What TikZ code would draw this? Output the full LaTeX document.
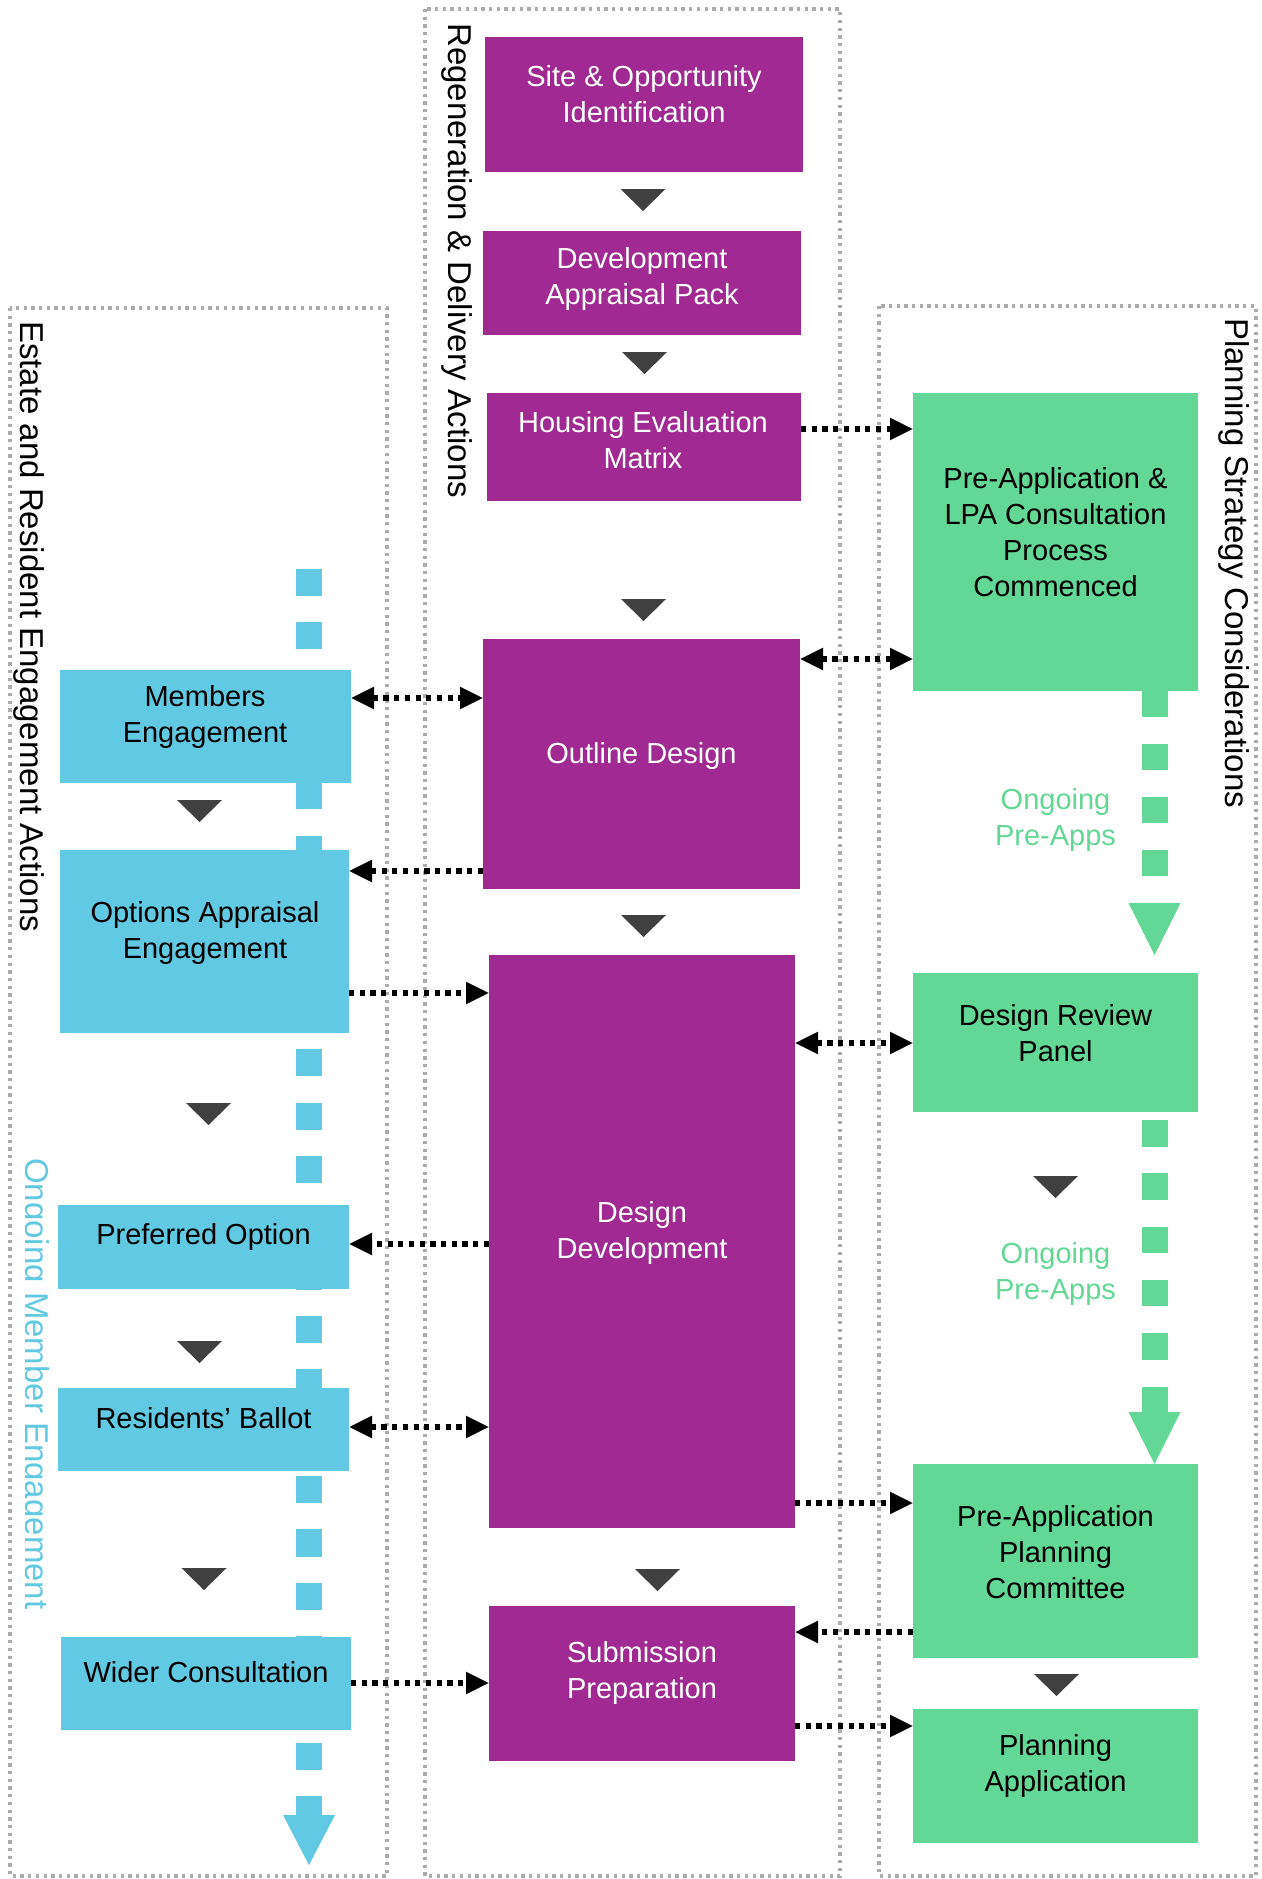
\documentclass[tikz,border=0pt]{standalone}
\usepackage{fontspec}
\setmainfont{Liberation Sans}
\usetikzlibrary{arrows.meta}
\definecolor{cpurple}{RGB}{160,42,145}
\definecolor{cblue}{RGB}{98,201,227}
\definecolor{cgreen}{RGB}{99,215,149}
\definecolor{ctri}{RGB}{64,64,64}
\definecolor{cframe}{RGB}{172,172,172}
\newcommand\downtri[2]{\fill[ctri] ({#1-22.5},#2) -- ({#1+22.5},#2) -- (#1,{#2+22}) -- cycle;}
\begin{document}
\begin{tikzpicture}[x=1pt,y=-1pt,
  >={Triangle[length=23pt,width=21pt]},
  frame/.style={draw=cframe, line width=3.5pt, dash pattern=on 3.3pt off 4.4pt},
  box/.style={rectangle, inner sep=0pt, outer sep=0pt},
  pbox/.style={box, fill=cpurple},
  bbox/.style={box, fill=cblue},
  gbox/.style={box, fill=cgreen},
  txt/.style={align=center, font=\fontsize{29}{36}\selectfont, inner sep=0pt},
  wtxt/.style={txt, text=white},
  ktxt/.style={txt, text=black},
  title/.style={rotate=-90, anchor=base west, font=\fontsize{33}{40}\selectfont, inner sep=0pt},
  link/.style={line width=5.2pt, dash pattern=on 5.2pt off 5.5pt, draw=black},
  bigdash/.style={line width=26pt}
]
\useasboundingbox (0,0) rectangle (1261,1879);
\fill[white] (0,0) rectangle (1261,1879);

% containers
\draw[frame] (425,9) rectangle (840,1876);
\draw[frame] (10,308) rectangle (387,1876);
\draw[frame] (879,306) rectangle (1256,1876);

% blue ongoing line
\coordinate (bstart) at (309,569);
\coordinate (bend) at (309,1815);
\draw[bigdash, draw=cblue, dash pattern=on 27pt off 26.36pt] (bstart) -- (bend);
\fill[cblue] ([xshift=-26pt]bend) -- ([xshift=26pt]bend) -- ([yshift=-50pt]bend) -- cycle;

% purple boxes
\node[pbox, minimum width=318pt, minimum height=135pt] (site) at (644,104.5) {};
\node[pbox, minimum width=318pt, minimum height=104pt] (dev) at (642,283) {};
\node[pbox, minimum width=314pt, minimum height=108pt] (housing) at (644,447) {};
\node[pbox, minimum width=317pt, minimum height=250pt] (outline) at (641.5,764) {};
\node[pbox, minimum width=306pt, minimum height=573pt] (dd) at (642,1241.5) {};
\node[pbox, minimum width=306pt, minimum height=155pt] (sub) at (642,1683.5) {};

% blue boxes
\node[bbox, minimum width=291pt, minimum height=113pt] (members) at (205.5,726.5) {};
\node[bbox, minimum width=289pt, minimum height=183pt] (options) at (204.5,941.5) {};
\node[bbox, minimum width=291pt, minimum height=84pt] (preferred) at (203.5,1247) {};
\node[bbox, minimum width=291pt, minimum height=83pt] (residents) at (203.5,1429.5) {};
\node[bbox, minimum width=290pt, minimum height=93pt] (wider) at (206,1683.5) {};

% green boxes
\node[gbox, minimum width=285pt, minimum height=298pt] (preapp) at (1055.5,542) {};
\node[gbox, minimum width=285pt, minimum height=139pt] (drp) at (1055.5,1042.5) {};
\node[gbox, minimum width=285pt, minimum height=194pt] (papc) at (1055.5,1561) {};
\node[gbox, minimum width=285pt, minimum height=134pt] (planapp) at (1055.5,1776) {};

% green ongoing arrows
\draw[bigdash, draw=cgreen, dash pattern=on 25.5pt off 27.5pt]
  ([xshift=99pt]preapp.south) -- ([xshift=99pt,yshift=70pt]drp.north);
\fill[cgreen] ([xshift=73pt,yshift=70pt]drp.north) -- ([xshift=125pt,yshift=70pt]drp.north)
  -- ([xshift=99pt,yshift=18pt]drp.north) -- cycle;
\draw[bigdash, draw=cgreen, dash pattern=on 26.5pt off 26.8pt]
  ([xshift=99pt,yshift=-8pt]drp.south) -- ([xshift=99pt,yshift=52pt]papc.north);
\fill[cgreen] ([xshift=73pt,yshift=52pt]papc.north) -- ([xshift=125pt,yshift=52pt]papc.north)
  -- ([xshift=99pt]papc.north) -- cycle;

% flow triangles
\downtri{643}{189}
\downtri{644.5}{352}
\downtri{643.5}{599}
\downtri{643.5}{915}
\downtri{657.5}{1569}
\downtri{199.5}{800}
\downtri{208.5}{1103}
\downtri{199.5}{1341}
\downtri{204}{1568}
\downtri{1055.5}{1176}
\downtri{1056.5}{1674}

% dotted connectors
\draw[link, ->] (housing.east |- 0,429) -- (preapp.west |- 0,429);
\draw[link, <->] (outline.east |- 0,659) -- (preapp.west |- 0,659);
\draw[link, <->] (members.east |- 0,698) -- (outline.west |- 0,698);
\draw[link, ->] (outline.west |- 0,871) -- (options.east |- 0,871);
\draw[link, ->] (options.east |- 0,993) -- (dd.west |- 0,993);
\draw[link, <->] (dd.east |- 0,1043) -- (drp.west |- 0,1043);
\draw[link, ->] (dd.west |- 0,1244) -- (preferred.east |- 0,1244);
\draw[link, <->] (residents.east |- 0,1427) -- (dd.west |- 0,1427);
\draw[link, ->] (dd.east |- 0,1503) -- (papc.west |- 0,1503);
\draw[link, ->] (papc.west |- 0,1632) -- (sub.east |- 0,1632);
\draw[link, ->] (sub.east |- 0,1726) -- (planapp.west |- 0,1726);
\draw[link, ->] (wider.east |- 0,1683) -- (sub.west |- 0,1683);

% box texts
\node[wtxt] (sitet) at (644,94) {Site \& Opportunity\\Identification};
\node[wtxt] (devt) at (642,279) {Development\\Appraisal Pack};
\node[wtxt] (housingt) at (643,440) {Housing Evaluation\\Matrix};
\node[wtxt] (outlinet) at (641.5,756) {Outline Design};
\node[wtxt] (ddt) at (642,1233) {Design\\Development};
\node[wtxt] (subt) at (642,1673) {Submission\\Preparation};

\node[ktxt] (memberst) at (205,717) {Members\\Engagement};
\node[ktxt] (optionst) at (205,933) {Options Appraisal\\Engagement};
\node[ktxt] (preferredt) at (203.5,1237) {Preferred Option};
\node[ktxt] (residentst) at (203.5,1418) {Residents’ Ballot};
\node[ktxt] (widert) at (206,1672) {Wider Consultation};

\node[ktxt] (preappt) at (1055.5,532) {Pre-Application \&\\LPA Consultation\\Process\\Commenced};
\node[ktxt] (drpt) at (1055.5,1033) {Design Review\\Panel};
\node[ktxt] (papct) at (1055.5,1552) {Pre-Application\\Planning\\Committee};
\node[ktxt] (planappt) at (1055.5,1766) {Planning\\Application};

\node[txt, text=cgreen] (og1) at (1055.5,820) {Ongoing\\Pre-Apps};
\node[txt, text=cgreen] (og2) at (1055.5,1274) {Ongoing\\Pre-Apps};

% column titles
\node[title] (t1) at (448,23) {Regeneration \& Delivery Actions};
\node[title] (t2) at (20,321) {Estate and Resident Engagement Actions};
\node[title] (t3) at (1225,318) {Planning Strategy Considerations};
\begin{scope}
  \clip (25,1100) rectangle (70,1700);
  \node[title, text=cblue] (t4) at (25.5,1158) {Ongoing Member Engagement};
\end{scope}
\end{tikzpicture}
\end{document}
